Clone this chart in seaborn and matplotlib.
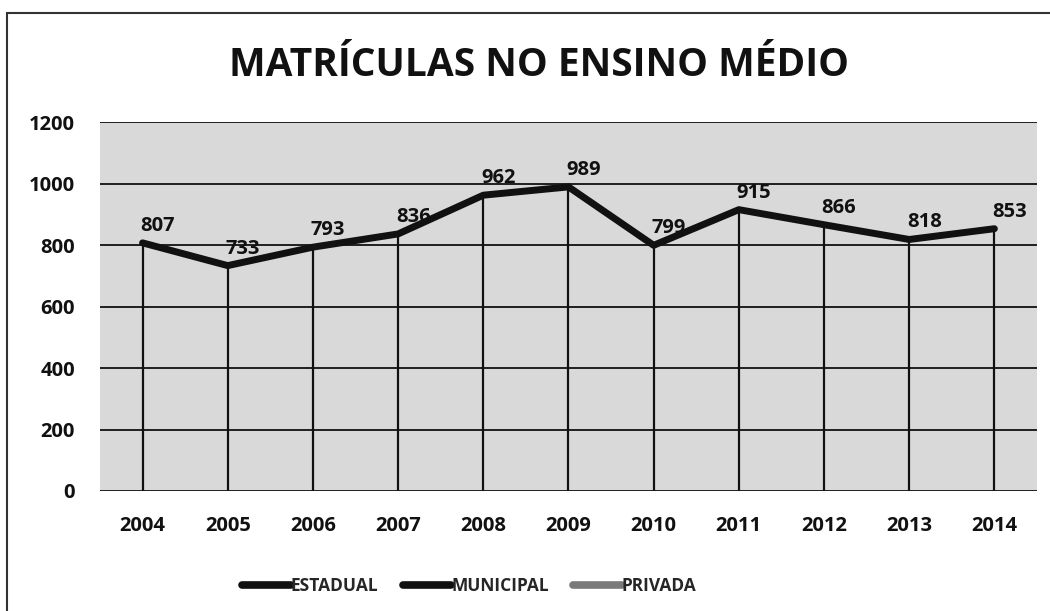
import matplotlib
matplotlib.use("Agg")
import matplotlib.pyplot as plt
from matplotlib.lines import Line2D
from matplotlib.patches import Rectangle
import seaborn as sns
import pandas as pd

# Values
anos = ["2004", "2005", "2006", "2007", "2008", "2009", "2010", "2011", "2012", "2013", "2014"]
estadual = [807, 733, 793, 836, 962, 989, 799, 915, 866, 818, 853]
series_legenda = ["ESTADUAL", "MUNICIPAL", "PRIVADA"]
cores_legenda = ["#111111", "#111111", "#7a7a7a"]
y_ticks = [0, 200, 400, 600, 800, 1000, 1200]

sns.set_theme(style="white")
plt.rcParams["font.family"] = ["Open Sans", "DejaVu Sans"]

df = pd.DataFrame({"pos": range(len(anos)), "Ano": anos, "Matriculas": estadual})

fig = plt.figure(figsize=(10.5, 6.11), dpi=100)
ax = fig.add_axes([0.0952, 0.1964, 0.8924, 0.6039])
ax.set_facecolor("#d9d9d9")

# horizontal gridlines
for t in y_ticks:
    ax.axhline(t, color="#111111", lw=1.3, zorder=1)

# drop lines from each point to the axis
ax.vlines(df["pos"], 0, df["Matriculas"], color="#111111", lw=1.6, zorder=2)

sns.lineplot(data=df, x="pos", y="Matriculas", color="#111111", linewidth=5,
             ax=ax, zorder=3, solid_capstyle="round", solid_joinstyle="round")

for x, v in zip(df["pos"], df["Matriculas"]):
    ax.annotate(str(v), (x, v), xytext=(15, 7), textcoords="offset pixels",
                ha="center", va="bottom", fontsize=14.5, fontweight="bold",
                color="#111111", zorder=4)

ax.set_xlim(-0.5, len(anos) - 0.5)
ax.set_ylim(0, 1200)
ax.set_xticks(range(len(anos)))
ax.set_xticklabels(anos)
ax.set_yticks(y_ticks)
ax.tick_params(axis="both", length=0, colors="#111111")
ax.tick_params(axis="x", pad=18, labelsize=14.5)
ax.tick_params(axis="y", pad=18, labelsize=14.5)
for lbl in ax.get_xticklabels() + ax.get_yticklabels():
    lbl.set_fontweight("bold")
ax.set_xlabel("")
ax.set_ylabel("")
for s in ax.spines.values():
    s.set_visible(False)

fig.text(0.513, 0.893, "MATRÍCULAS NO ENSINO MÉDIO", ha="center", va="center",
         fontsize=28, fontweight="bold", color="#111111")

handles = [Line2D([], [], color=c, lw=5.5, solid_capstyle="round") for c in cores_legenda]
leg = fig.legend(handles, series_legenda, loc="center", bbox_to_anchor=(0.447, 0.041),
                 ncol=3, frameon=False, handlelength=2.8, handletextpad=0.0,
                 columnspacing=1.4, prop={"weight": "bold", "size": 12.5})

# outer chart border
fig.patches.append(Rectangle((7 / 1050, -0.01), 1.05, 1 - 13 / 611 + 0.01,
                             transform=fig.transFigure, fill=False,
                             edgecolor="#333333", lw=1.5))

fig.savefig("out.png", dpi=100)
